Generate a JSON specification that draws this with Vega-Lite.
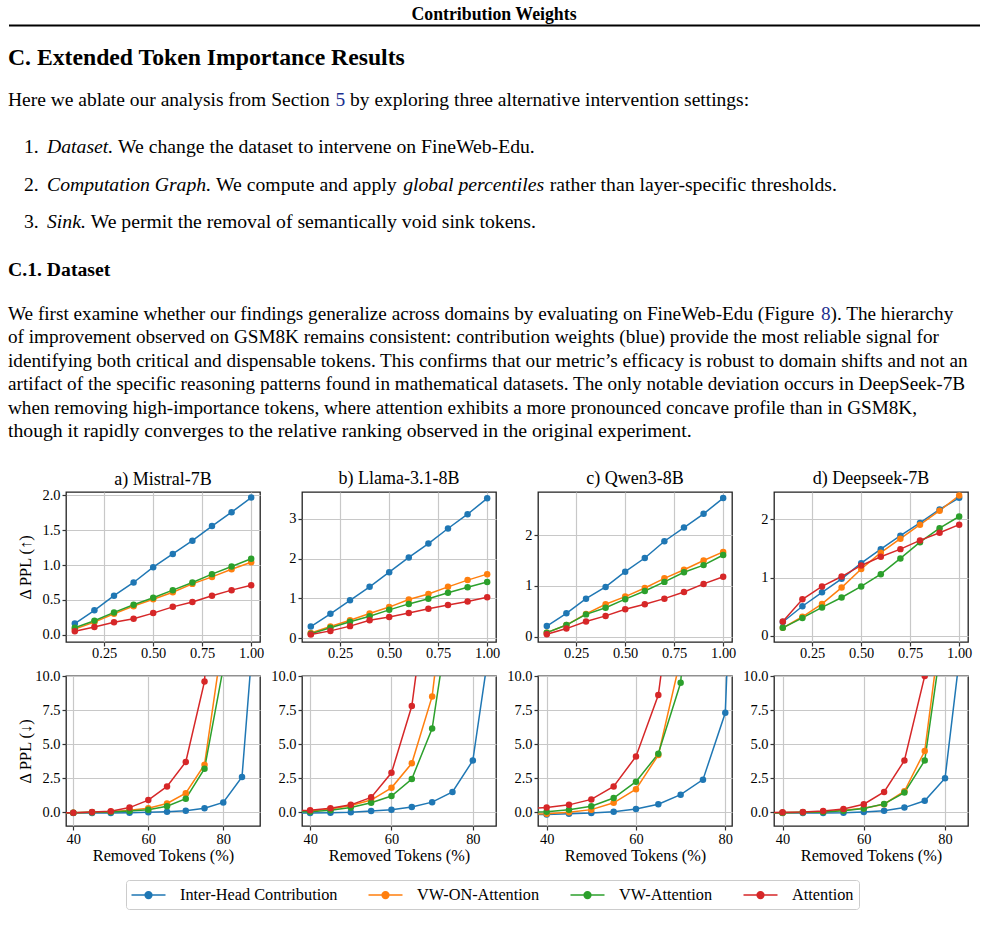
{
"$schema": "https://vega.github.io/schema/vega-lite/v6.json",
"padding": {"left": 8, "top": 0, "right": 0, "bottom": 0},
"background": "white",
"bounds": "flush",
"spacing": 184,
"config": {
  "font": "Liberation Serif",
  "view": {"stroke": "#222222", "strokeWidth": 1.3},
  "axis": {"labelFont": "Liberation Serif", "labelFontSize": 14.4, "labelColor": "black", "titleFont": "Liberation Serif", "titleFontSize": 16.3, "titleFontWeight": "normal", "titleColor": "black", "grid": true, "gridColor": "#c8c8c8", "gridWidth": 1.2, "domain": false, "ticks": true, "tickColor": "#333333", "tickSize": 4, "tickWidth": 1.2, "labelPadding": 2, "labelFlush": false, "labelOverlap": false, "titlePadding": 2},
  "title": {"font": "Liberation Serif", "fontSize": 18, "fontWeight": "normal", "color": "black", "offset": 4, "anchor": "middle", "frame": "group"},
  "legend": {"labelFont": "Liberation Serif", "labelFontSize": 16.3, "labelColor": "black", "symbolType": "M-2,0L2,0M0.4,0A0.4,0.4,0,1,1,-0.4,0A0.4,0.4,0,1,1,0.4,0Z", "symbolSize": 289, "symbolStrokeWidth": 1.5, "symbolOffset": 7.5, "labelOffset": 22, "columnPadding": 28, "padding": 5.5, "strokeColor": "#cccccc", "fillColor": "white", "cornerRadius": 3, "symbolOpacity": 1}
},
"datasets": {
  "page": [
    {"part": "header", "text": "Contribution Weights"},
    {"part": "h1", "text": "C. Extended Token Importance Results"},
    {"part": "introA", "text": "Here we ablate our analysis from Section"},
    {"part": "introLink", "text": "5"},
    {"part": "introB", "text": "by exploring three alternative intervention settings:"},
    {"part": "nums", "text": ["1.", "2.", "3."]},
    {"part": "li1i", "text": "Dataset."},
    {"part": "li1", "text": "We change the dataset to intervene on FineWeb-Edu."},
    {"part": "li2i", "text": "Computation Graph."},
    {"part": "li2a", "text": "We compute and apply"},
    {"part": "li2j", "text": "global percentiles"},
    {"part": "li2b", "text": "rather than layer-specific thresholds."},
    {"part": "li3i", "text": "Sink."},
    {"part": "li3", "text": "We permit the removal of semantically void sink tokens."},
    {"part": "h2", "text": "C.1. Dataset"},
    {"part": "p1a", "text": "We first examine whether our findings generalize across domains by evaluating on FineWeb-Edu (Figure"},
    {"part": "p1link", "text": "8"},
    {"part": "p1b", "text": "). The hierarchy"},
    {"part": "para", "text": ["of improvement observed on GSM8K remains consistent: contribution weights (blue) provide the most reliable signal for", "identifying both critical and dispensable tokens. This confirms that our metric’s efficacy is robust to domain shifts and not an", "artifact of the specific reasoning patterns found in mathematical datasets. The only notable deviation occurs in DeepSeek-7B", "when removing high-importance tokens, where attention exhibits a more pronounced concave profile than in GSM8K,"]},
    {"part": "last", "text": "though it rapidly converges to the relative ranking observed in the original experiment."}
  ],
  "top": [
    {"model": "Mistral-7B", "method": "Inter-Head Contribution", "x": 0.1, "y": 0.16},
    {"model": "Mistral-7B", "method": "Inter-Head Contribution", "x": 0.2, "y": 0.35},
    {"model": "Mistral-7B", "method": "Inter-Head Contribution", "x": 0.3, "y": 0.56},
    {"model": "Mistral-7B", "method": "Inter-Head Contribution", "x": 0.4, "y": 0.75},
    {"model": "Mistral-7B", "method": "Inter-Head Contribution", "x": 0.5, "y": 0.97},
    {"model": "Mistral-7B", "method": "Inter-Head Contribution", "x": 0.6, "y": 1.16},
    {"model": "Mistral-7B", "method": "Inter-Head Contribution", "x": 0.7, "y": 1.35},
    {"model": "Mistral-7B", "method": "Inter-Head Contribution", "x": 0.8, "y": 1.56},
    {"model": "Mistral-7B", "method": "Inter-Head Contribution", "x": 0.9, "y": 1.76},
    {"model": "Mistral-7B", "method": "Inter-Head Contribution", "x": 1.0, "y": 1.97},
    {"model": "Mistral-7B", "method": "VW-ON-Attention", "x": 0.1, "y": 0.08},
    {"model": "Mistral-7B", "method": "VW-ON-Attention", "x": 0.2, "y": 0.18},
    {"model": "Mistral-7B", "method": "VW-ON-Attention", "x": 0.3, "y": 0.30},
    {"model": "Mistral-7B", "method": "VW-ON-Attention", "x": 0.4, "y": 0.41},
    {"model": "Mistral-7B", "method": "VW-ON-Attention", "x": 0.5, "y": 0.51},
    {"model": "Mistral-7B", "method": "VW-ON-Attention", "x": 0.6, "y": 0.61},
    {"model": "Mistral-7B", "method": "VW-ON-Attention", "x": 0.7, "y": 0.73},
    {"model": "Mistral-7B", "method": "VW-ON-Attention", "x": 0.8, "y": 0.83},
    {"model": "Mistral-7B", "method": "VW-ON-Attention", "x": 0.9, "y": 0.94},
    {"model": "Mistral-7B", "method": "VW-ON-Attention", "x": 1.0, "y": 1.04},
    {"model": "Mistral-7B", "method": "VW-Attention", "x": 0.1, "y": 0.10},
    {"model": "Mistral-7B", "method": "VW-Attention", "x": 0.2, "y": 0.20},
    {"model": "Mistral-7B", "method": "VW-Attention", "x": 0.3, "y": 0.32},
    {"model": "Mistral-7B", "method": "VW-Attention", "x": 0.4, "y": 0.43},
    {"model": "Mistral-7B", "method": "VW-Attention", "x": 0.5, "y": 0.53},
    {"model": "Mistral-7B", "method": "VW-Attention", "x": 0.6, "y": 0.64},
    {"model": "Mistral-7B", "method": "VW-Attention", "x": 0.7, "y": 0.75},
    {"model": "Mistral-7B", "method": "VW-Attention", "x": 0.8, "y": 0.87},
    {"model": "Mistral-7B", "method": "VW-Attention", "x": 0.9, "y": 0.98},
    {"model": "Mistral-7B", "method": "VW-Attention", "x": 1.0, "y": 1.09},
    {"model": "Mistral-7B", "method": "Attention", "x": 0.1, "y": 0.05},
    {"model": "Mistral-7B", "method": "Attention", "x": 0.2, "y": 0.11},
    {"model": "Mistral-7B", "method": "Attention", "x": 0.3, "y": 0.18},
    {"model": "Mistral-7B", "method": "Attention", "x": 0.4, "y": 0.23},
    {"model": "Mistral-7B", "method": "Attention", "x": 0.5, "y": 0.31},
    {"model": "Mistral-7B", "method": "Attention", "x": 0.6, "y": 0.40},
    {"model": "Mistral-7B", "method": "Attention", "x": 0.7, "y": 0.47},
    {"model": "Mistral-7B", "method": "Attention", "x": 0.8, "y": 0.56},
    {"model": "Mistral-7B", "method": "Attention", "x": 0.9, "y": 0.64},
    {"model": "Mistral-7B", "method": "Attention", "x": 1.0, "y": 0.71},
    {"model": "Llama-3.1-8B", "method": "Inter-Head Contribution", "x": 0.1, "y": 0.29},
    {"model": "Llama-3.1-8B", "method": "Inter-Head Contribution", "x": 0.2, "y": 0.61},
    {"model": "Llama-3.1-8B", "method": "Inter-Head Contribution", "x": 0.3, "y": 0.95},
    {"model": "Llama-3.1-8B", "method": "Inter-Head Contribution", "x": 0.4, "y": 1.29},
    {"model": "Llama-3.1-8B", "method": "Inter-Head Contribution", "x": 0.5, "y": 1.66},
    {"model": "Llama-3.1-8B", "method": "Inter-Head Contribution", "x": 0.6, "y": 2.03},
    {"model": "Llama-3.1-8B", "method": "Inter-Head Contribution", "x": 0.7, "y": 2.38},
    {"model": "Llama-3.1-8B", "method": "Inter-Head Contribution", "x": 0.8, "y": 2.76},
    {"model": "Llama-3.1-8B", "method": "Inter-Head Contribution", "x": 0.9, "y": 3.12},
    {"model": "Llama-3.1-8B", "method": "Inter-Head Contribution", "x": 1.0, "y": 3.52},
    {"model": "Llama-3.1-8B", "method": "VW-ON-Attention", "x": 0.1, "y": 0.13},
    {"model": "Llama-3.1-8B", "method": "VW-ON-Attention", "x": 0.2, "y": 0.29},
    {"model": "Llama-3.1-8B", "method": "VW-ON-Attention", "x": 0.3, "y": 0.45},
    {"model": "Llama-3.1-8B", "method": "VW-ON-Attention", "x": 0.4, "y": 0.62},
    {"model": "Llama-3.1-8B", "method": "VW-ON-Attention", "x": 0.5, "y": 0.78},
    {"model": "Llama-3.1-8B", "method": "VW-ON-Attention", "x": 0.6, "y": 0.97},
    {"model": "Llama-3.1-8B", "method": "VW-ON-Attention", "x": 0.7, "y": 1.11},
    {"model": "Llama-3.1-8B", "method": "VW-ON-Attention", "x": 0.8, "y": 1.29},
    {"model": "Llama-3.1-8B", "method": "VW-ON-Attention", "x": 0.9, "y": 1.46},
    {"model": "Llama-3.1-8B", "method": "VW-ON-Attention", "x": 1.0, "y": 1.61},
    {"model": "Llama-3.1-8B", "method": "VW-Attention", "x": 0.1, "y": 0.11},
    {"model": "Llama-3.1-8B", "method": "VW-Attention", "x": 0.2, "y": 0.26},
    {"model": "Llama-3.1-8B", "method": "VW-Attention", "x": 0.3, "y": 0.41},
    {"model": "Llama-3.1-8B", "method": "VW-Attention", "x": 0.4, "y": 0.55},
    {"model": "Llama-3.1-8B", "method": "VW-Attention", "x": 0.5, "y": 0.71},
    {"model": "Llama-3.1-8B", "method": "VW-Attention", "x": 0.6, "y": 0.86},
    {"model": "Llama-3.1-8B", "method": "VW-Attention", "x": 0.7, "y": 0.99},
    {"model": "Llama-3.1-8B", "method": "VW-Attention", "x": 0.8, "y": 1.14},
    {"model": "Llama-3.1-8B", "method": "VW-Attention", "x": 0.9, "y": 1.28},
    {"model": "Llama-3.1-8B", "method": "VW-Attention", "x": 1.0, "y": 1.41},
    {"model": "Llama-3.1-8B", "method": "Attention", "x": 0.1, "y": 0.09},
    {"model": "Llama-3.1-8B", "method": "Attention", "x": 0.2, "y": 0.18},
    {"model": "Llama-3.1-8B", "method": "Attention", "x": 0.3, "y": 0.30},
    {"model": "Llama-3.1-8B", "method": "Attention", "x": 0.4, "y": 0.45},
    {"model": "Llama-3.1-8B", "method": "Attention", "x": 0.5, "y": 0.53},
    {"model": "Llama-3.1-8B", "method": "Attention", "x": 0.6, "y": 0.63},
    {"model": "Llama-3.1-8B", "method": "Attention", "x": 0.7, "y": 0.74},
    {"model": "Llama-3.1-8B", "method": "Attention", "x": 0.8, "y": 0.83},
    {"model": "Llama-3.1-8B", "method": "Attention", "x": 0.9, "y": 0.92},
    {"model": "Llama-3.1-8B", "method": "Attention", "x": 1.0, "y": 1.03},
    {"model": "Qwen3-8B", "method": "Inter-Head Contribution", "x": 0.1, "y": 0.21},
    {"model": "Qwen3-8B", "method": "Inter-Head Contribution", "x": 0.2, "y": 0.46},
    {"model": "Qwen3-8B", "method": "Inter-Head Contribution", "x": 0.3, "y": 0.75},
    {"model": "Qwen3-8B", "method": "Inter-Head Contribution", "x": 0.4, "y": 0.98},
    {"model": "Qwen3-8B", "method": "Inter-Head Contribution", "x": 0.5, "y": 1.28},
    {"model": "Qwen3-8B", "method": "Inter-Head Contribution", "x": 0.6, "y": 1.55},
    {"model": "Qwen3-8B", "method": "Inter-Head Contribution", "x": 0.7, "y": 1.88},
    {"model": "Qwen3-8B", "method": "Inter-Head Contribution", "x": 0.8, "y": 2.15},
    {"model": "Qwen3-8B", "method": "Inter-Head Contribution", "x": 0.9, "y": 2.42},
    {"model": "Qwen3-8B", "method": "Inter-Head Contribution", "x": 1.0, "y": 2.73},
    {"model": "Qwen3-8B", "method": "VW-ON-Attention", "x": 0.1, "y": 0.08},
    {"model": "Qwen3-8B", "method": "VW-ON-Attention", "x": 0.2, "y": 0.23},
    {"model": "Qwen3-8B", "method": "VW-ON-Attention", "x": 0.3, "y": 0.45},
    {"model": "Qwen3-8B", "method": "VW-ON-Attention", "x": 0.4, "y": 0.64},
    {"model": "Qwen3-8B", "method": "VW-ON-Attention", "x": 0.5, "y": 0.79},
    {"model": "Qwen3-8B", "method": "VW-ON-Attention", "x": 0.6, "y": 0.96},
    {"model": "Qwen3-8B", "method": "VW-ON-Attention", "x": 0.7, "y": 1.15},
    {"model": "Qwen3-8B", "method": "VW-ON-Attention", "x": 0.8, "y": 1.32},
    {"model": "Qwen3-8B", "method": "VW-ON-Attention", "x": 0.9, "y": 1.50},
    {"model": "Qwen3-8B", "method": "VW-ON-Attention", "x": 1.0, "y": 1.67},
    {"model": "Qwen3-8B", "method": "VW-Attention", "x": 0.1, "y": 0.08},
    {"model": "Qwen3-8B", "method": "VW-Attention", "x": 0.2, "y": 0.23},
    {"model": "Qwen3-8B", "method": "VW-Attention", "x": 0.3, "y": 0.44},
    {"model": "Qwen3-8B", "method": "VW-Attention", "x": 0.4, "y": 0.57},
    {"model": "Qwen3-8B", "method": "VW-Attention", "x": 0.5, "y": 0.74},
    {"model": "Qwen3-8B", "method": "VW-Attention", "x": 0.6, "y": 0.90},
    {"model": "Qwen3-8B", "method": "VW-Attention", "x": 0.7, "y": 1.08},
    {"model": "Qwen3-8B", "method": "VW-Attention", "x": 0.8, "y": 1.27},
    {"model": "Qwen3-8B", "method": "VW-Attention", "x": 0.9, "y": 1.41},
    {"model": "Qwen3-8B", "method": "VW-Attention", "x": 1.0, "y": 1.61},
    {"model": "Qwen3-8B", "method": "Attention", "x": 0.1, "y": 0.05},
    {"model": "Qwen3-8B", "method": "Attention", "x": 0.2, "y": 0.16},
    {"model": "Qwen3-8B", "method": "Attention", "x": 0.3, "y": 0.30},
    {"model": "Qwen3-8B", "method": "Attention", "x": 0.4, "y": 0.41},
    {"model": "Qwen3-8B", "method": "Attention", "x": 0.5, "y": 0.54},
    {"model": "Qwen3-8B", "method": "Attention", "x": 0.6, "y": 0.64},
    {"model": "Qwen3-8B", "method": "Attention", "x": 0.7, "y": 0.75},
    {"model": "Qwen3-8B", "method": "Attention", "x": 0.8, "y": 0.88},
    {"model": "Qwen3-8B", "method": "Attention", "x": 0.9, "y": 1.04},
    {"model": "Qwen3-8B", "method": "Attention", "x": 1.0, "y": 1.18},
    {"model": "Deepseek-7B", "method": "Inter-Head Contribution", "x": 0.1, "y": 0.24},
    {"model": "Deepseek-7B", "method": "Inter-Head Contribution", "x": 0.2, "y": 0.51},
    {"model": "Deepseek-7B", "method": "Inter-Head Contribution", "x": 0.3, "y": 0.75},
    {"model": "Deepseek-7B", "method": "Inter-Head Contribution", "x": 0.4, "y": 0.98},
    {"model": "Deepseek-7B", "method": "Inter-Head Contribution", "x": 0.5, "y": 1.25},
    {"model": "Deepseek-7B", "method": "Inter-Head Contribution", "x": 0.6, "y": 1.49},
    {"model": "Deepseek-7B", "method": "Inter-Head Contribution", "x": 0.7, "y": 1.72},
    {"model": "Deepseek-7B", "method": "Inter-Head Contribution", "x": 0.8, "y": 1.94},
    {"model": "Deepseek-7B", "method": "Inter-Head Contribution", "x": 0.9, "y": 2.17},
    {"model": "Deepseek-7B", "method": "Inter-Head Contribution", "x": 1.0, "y": 2.37},
    {"model": "Deepseek-7B", "method": "VW-ON-Attention", "x": 0.1, "y": 0.14},
    {"model": "Deepseek-7B", "method": "VW-ON-Attention", "x": 0.2, "y": 0.33},
    {"model": "Deepseek-7B", "method": "VW-ON-Attention", "x": 0.3, "y": 0.55},
    {"model": "Deepseek-7B", "method": "VW-ON-Attention", "x": 0.4, "y": 0.83},
    {"model": "Deepseek-7B", "method": "VW-ON-Attention", "x": 0.5, "y": 1.15},
    {"model": "Deepseek-7B", "method": "VW-ON-Attention", "x": 0.6, "y": 1.43},
    {"model": "Deepseek-7B", "method": "VW-ON-Attention", "x": 0.7, "y": 1.67},
    {"model": "Deepseek-7B", "method": "VW-ON-Attention", "x": 0.8, "y": 1.91},
    {"model": "Deepseek-7B", "method": "VW-ON-Attention", "x": 0.9, "y": 2.15},
    {"model": "Deepseek-7B", "method": "VW-ON-Attention", "x": 1.0, "y": 2.41},
    {"model": "Deepseek-7B", "method": "VW-Attention", "x": 0.1, "y": 0.14},
    {"model": "Deepseek-7B", "method": "VW-Attention", "x": 0.2, "y": 0.31},
    {"model": "Deepseek-7B", "method": "VW-Attention", "x": 0.3, "y": 0.49},
    {"model": "Deepseek-7B", "method": "VW-Attention", "x": 0.4, "y": 0.66},
    {"model": "Deepseek-7B", "method": "VW-Attention", "x": 0.5, "y": 0.85},
    {"model": "Deepseek-7B", "method": "VW-Attention", "x": 0.6, "y": 1.06},
    {"model": "Deepseek-7B", "method": "VW-Attention", "x": 0.7, "y": 1.33},
    {"model": "Deepseek-7B", "method": "VW-Attention", "x": 0.8, "y": 1.61},
    {"model": "Deepseek-7B", "method": "VW-Attention", "x": 0.9, "y": 1.85},
    {"model": "Deepseek-7B", "method": "VW-Attention", "x": 1.0, "y": 2.05},
    {"model": "Deepseek-7B", "method": "Attention", "x": 0.1, "y": 0.25},
    {"model": "Deepseek-7B", "method": "Attention", "x": 0.2, "y": 0.63},
    {"model": "Deepseek-7B", "method": "Attention", "x": 0.3, "y": 0.85},
    {"model": "Deepseek-7B", "method": "Attention", "x": 0.4, "y": 1.02},
    {"model": "Deepseek-7B", "method": "Attention", "x": 0.5, "y": 1.21},
    {"model": "Deepseek-7B", "method": "Attention", "x": 0.6, "y": 1.36},
    {"model": "Deepseek-7B", "method": "Attention", "x": 0.7, "y": 1.49},
    {"model": "Deepseek-7B", "method": "Attention", "x": 0.8, "y": 1.64},
    {"model": "Deepseek-7B", "method": "Attention", "x": 0.9, "y": 1.77},
    {"model": "Deepseek-7B", "method": "Attention", "x": 1.0, "y": 1.91}
  ],
  "bottom": [
    {"model": "Mistral-7B", "method": "Inter-Head Contribution", "x": 35, "y": -0.05},
    {"model": "Mistral-7B", "method": "Inter-Head Contribution", "x": 40, "y": -0.05},
    {"model": "Mistral-7B", "method": "Inter-Head Contribution", "x": 45, "y": -0.05},
    {"model": "Mistral-7B", "method": "Inter-Head Contribution", "x": 50, "y": -0.05},
    {"model": "Mistral-7B", "method": "Inter-Head Contribution", "x": 55, "y": -0.03},
    {"model": "Mistral-7B", "method": "Inter-Head Contribution", "x": 60, "y": 0.0},
    {"model": "Mistral-7B", "method": "Inter-Head Contribution", "x": 65, "y": 0.05},
    {"model": "Mistral-7B", "method": "Inter-Head Contribution", "x": 70, "y": 0.12},
    {"model": "Mistral-7B", "method": "Inter-Head Contribution", "x": 75, "y": 0.3},
    {"model": "Mistral-7B", "method": "Inter-Head Contribution", "x": 80, "y": 0.73},
    {"model": "Mistral-7B", "method": "Inter-Head Contribution", "x": 85, "y": 2.6},
    {"model": "Mistral-7B", "method": "Inter-Head Contribution", "x": 90, "y": 20},
    {"model": "Mistral-7B", "method": "VW-ON-Attention", "x": 35, "y": -0.04},
    {"model": "Mistral-7B", "method": "VW-ON-Attention", "x": 40, "y": -0.03},
    {"model": "Mistral-7B", "method": "VW-ON-Attention", "x": 45, "y": 0.0},
    {"model": "Mistral-7B", "method": "VW-ON-Attention", "x": 50, "y": 0.05},
    {"model": "Mistral-7B", "method": "VW-ON-Attention", "x": 55, "y": 0.15},
    {"model": "Mistral-7B", "method": "VW-ON-Attention", "x": 60, "y": 0.3},
    {"model": "Mistral-7B", "method": "VW-ON-Attention", "x": 65, "y": 0.65},
    {"model": "Mistral-7B", "method": "VW-ON-Attention", "x": 70, "y": 1.4},
    {"model": "Mistral-7B", "method": "VW-ON-Attention", "x": 75, "y": 3.5},
    {"model": "Mistral-7B", "method": "VW-ON-Attention", "x": 80, "y": 13},
    {"model": "Mistral-7B", "method": "VW-Attention", "x": 35, "y": -0.04},
    {"model": "Mistral-7B", "method": "VW-Attention", "x": 40, "y": -0.03},
    {"model": "Mistral-7B", "method": "VW-Attention", "x": 45, "y": 0.0},
    {"model": "Mistral-7B", "method": "VW-Attention", "x": 50, "y": 0.03},
    {"model": "Mistral-7B", "method": "VW-Attention", "x": 55, "y": 0.1},
    {"model": "Mistral-7B", "method": "VW-Attention", "x": 60, "y": 0.2},
    {"model": "Mistral-7B", "method": "VW-Attention", "x": 65, "y": 0.45},
    {"model": "Mistral-7B", "method": "VW-Attention", "x": 70, "y": 1.0},
    {"model": "Mistral-7B", "method": "VW-Attention", "x": 75, "y": 3.2},
    {"model": "Mistral-7B", "method": "VW-Attention", "x": 80, "y": 10.6},
    {"model": "Mistral-7B", "method": "Attention", "x": 35, "y": -0.04},
    {"model": "Mistral-7B", "method": "Attention", "x": 40, "y": -0.03},
    {"model": "Mistral-7B", "method": "Attention", "x": 45, "y": 0.02},
    {"model": "Mistral-7B", "method": "Attention", "x": 50, "y": 0.08},
    {"model": "Mistral-7B", "method": "Attention", "x": 55, "y": 0.35},
    {"model": "Mistral-7B", "method": "Attention", "x": 60, "y": 0.9},
    {"model": "Mistral-7B", "method": "Attention", "x": 65, "y": 1.9},
    {"model": "Mistral-7B", "method": "Attention", "x": 70, "y": 3.7},
    {"model": "Mistral-7B", "method": "Attention", "x": 75, "y": 9.6},
    {"model": "Mistral-7B", "method": "Attention", "x": 80, "y": 35},
    {"model": "Llama-3.1-8B", "method": "Inter-Head Contribution", "x": 35, "y": -0.06},
    {"model": "Llama-3.1-8B", "method": "Inter-Head Contribution", "x": 40, "y": -0.05},
    {"model": "Llama-3.1-8B", "method": "Inter-Head Contribution", "x": 45, "y": -0.03},
    {"model": "Llama-3.1-8B", "method": "Inter-Head Contribution", "x": 50, "y": 0.0},
    {"model": "Llama-3.1-8B", "method": "Inter-Head Contribution", "x": 55, "y": 0.1},
    {"model": "Llama-3.1-8B", "method": "Inter-Head Contribution", "x": 60, "y": 0.2},
    {"model": "Llama-3.1-8B", "method": "Inter-Head Contribution", "x": 65, "y": 0.4},
    {"model": "Llama-3.1-8B", "method": "Inter-Head Contribution", "x": 70, "y": 0.75},
    {"model": "Llama-3.1-8B", "method": "Inter-Head Contribution", "x": 75, "y": 1.5},
    {"model": "Llama-3.1-8B", "method": "Inter-Head Contribution", "x": 80, "y": 3.8},
    {"model": "Llama-3.1-8B", "method": "Inter-Head Contribution", "x": 85, "y": 14},
    {"model": "Llama-3.1-8B", "method": "VW-ON-Attention", "x": 35, "y": 0.06},
    {"model": "Llama-3.1-8B", "method": "VW-ON-Attention", "x": 40, "y": 0.1},
    {"model": "Llama-3.1-8B", "method": "VW-ON-Attention", "x": 45, "y": 0.25},
    {"model": "Llama-3.1-8B", "method": "VW-ON-Attention", "x": 50, "y": 0.5},
    {"model": "Llama-3.1-8B", "method": "VW-ON-Attention", "x": 55, "y": 0.9},
    {"model": "Llama-3.1-8B", "method": "VW-ON-Attention", "x": 60, "y": 1.8},
    {"model": "Llama-3.1-8B", "method": "VW-ON-Attention", "x": 65, "y": 3.6},
    {"model": "Llama-3.1-8B", "method": "VW-ON-Attention", "x": 70, "y": 8.5},
    {"model": "Llama-3.1-8B", "method": "VW-ON-Attention", "x": 75, "y": 21},
    {"model": "Llama-3.1-8B", "method": "VW-Attention", "x": 35, "y": 0.02},
    {"model": "Llama-3.1-8B", "method": "VW-Attention", "x": 40, "y": 0.05},
    {"model": "Llama-3.1-8B", "method": "VW-Attention", "x": 45, "y": 0.15},
    {"model": "Llama-3.1-8B", "method": "VW-Attention", "x": 50, "y": 0.35},
    {"model": "Llama-3.1-8B", "method": "VW-Attention", "x": 55, "y": 0.7},
    {"model": "Llama-3.1-8B", "method": "VW-Attention", "x": 60, "y": 1.2},
    {"model": "Llama-3.1-8B", "method": "VW-Attention", "x": 65, "y": 2.45},
    {"model": "Llama-3.1-8B", "method": "VW-Attention", "x": 70, "y": 6.15},
    {"model": "Llama-3.1-8B", "method": "VW-Attention", "x": 75, "y": 16},
    {"model": "Llama-3.1-8B", "method": "Attention", "x": 35, "y": 0.1},
    {"model": "Llama-3.1-8B", "method": "Attention", "x": 40, "y": 0.15},
    {"model": "Llama-3.1-8B", "method": "Attention", "x": 45, "y": 0.3},
    {"model": "Llama-3.1-8B", "method": "Attention", "x": 50, "y": 0.55},
    {"model": "Llama-3.1-8B", "method": "Attention", "x": 55, "y": 1.1},
    {"model": "Llama-3.1-8B", "method": "Attention", "x": 60, "y": 2.9},
    {"model": "Llama-3.1-8B", "method": "Attention", "x": 65, "y": 7.8},
    {"model": "Llama-3.1-8B", "method": "Attention", "x": 70, "y": 19},
    {"model": "Qwen3-8B", "method": "Inter-Head Contribution", "x": 35, "y": -0.18},
    {"model": "Qwen3-8B", "method": "Inter-Head Contribution", "x": 40, "y": -0.15},
    {"model": "Qwen3-8B", "method": "Inter-Head Contribution", "x": 45, "y": -0.1},
    {"model": "Qwen3-8B", "method": "Inter-Head Contribution", "x": 50, "y": -0.05},
    {"model": "Qwen3-8B", "method": "Inter-Head Contribution", "x": 55, "y": 0.05},
    {"model": "Qwen3-8B", "method": "Inter-Head Contribution", "x": 60, "y": 0.25},
    {"model": "Qwen3-8B", "method": "Inter-Head Contribution", "x": 65, "y": 0.6},
    {"model": "Qwen3-8B", "method": "Inter-Head Contribution", "x": 70, "y": 1.3},
    {"model": "Qwen3-8B", "method": "Inter-Head Contribution", "x": 75, "y": 2.4},
    {"model": "Qwen3-8B", "method": "Inter-Head Contribution", "x": 80, "y": 7.3},
    {"model": "Qwen3-8B", "method": "Inter-Head Contribution", "x": 85, "y": 50},
    {"model": "Qwen3-8B", "method": "VW-ON-Attention", "x": 35, "y": -0.15},
    {"model": "Qwen3-8B", "method": "VW-ON-Attention", "x": 40, "y": -0.1},
    {"model": "Qwen3-8B", "method": "VW-ON-Attention", "x": 45, "y": 0.0},
    {"model": "Qwen3-8B", "method": "VW-ON-Attention", "x": 50, "y": 0.2},
    {"model": "Qwen3-8B", "method": "VW-ON-Attention", "x": 55, "y": 0.7},
    {"model": "Qwen3-8B", "method": "VW-ON-Attention", "x": 60, "y": 1.7},
    {"model": "Qwen3-8B", "method": "VW-ON-Attention", "x": 65, "y": 4.2},
    {"model": "Qwen3-8B", "method": "VW-ON-Attention", "x": 70, "y": 11.3},
    {"model": "Qwen3-8B", "method": "VW-Attention", "x": 35, "y": 0.0},
    {"model": "Qwen3-8B", "method": "VW-Attention", "x": 40, "y": 0.05},
    {"model": "Qwen3-8B", "method": "VW-Attention", "x": 45, "y": 0.2},
    {"model": "Qwen3-8B", "method": "VW-Attention", "x": 50, "y": 0.45},
    {"model": "Qwen3-8B", "method": "VW-Attention", "x": 55, "y": 1.05},
    {"model": "Qwen3-8B", "method": "VW-Attention", "x": 60, "y": 2.25},
    {"model": "Qwen3-8B", "method": "VW-Attention", "x": 65, "y": 4.3},
    {"model": "Qwen3-8B", "method": "VW-Attention", "x": 70, "y": 9.5},
    {"model": "Qwen3-8B", "method": "VW-Attention", "x": 75, "y": 30},
    {"model": "Qwen3-8B", "method": "Attention", "x": 35, "y": 0.25},
    {"model": "Qwen3-8B", "method": "Attention", "x": 40, "y": 0.35},
    {"model": "Qwen3-8B", "method": "Attention", "x": 45, "y": 0.55},
    {"model": "Qwen3-8B", "method": "Attention", "x": 50, "y": 0.95},
    {"model": "Qwen3-8B", "method": "Attention", "x": 55, "y": 1.9},
    {"model": "Qwen3-8B", "method": "Attention", "x": 60, "y": 4.1},
    {"model": "Qwen3-8B", "method": "Attention", "x": 65, "y": 8.6},
    {"model": "Qwen3-8B", "method": "Attention", "x": 70, "y": 21},
    {"model": "Deepseek-7B", "method": "Inter-Head Contribution", "x": 35, "y": -0.06},
    {"model": "Deepseek-7B", "method": "Inter-Head Contribution", "x": 40, "y": -0.05},
    {"model": "Deepseek-7B", "method": "Inter-Head Contribution", "x": 45, "y": -0.05},
    {"model": "Deepseek-7B", "method": "Inter-Head Contribution", "x": 50, "y": -0.05},
    {"model": "Deepseek-7B", "method": "Inter-Head Contribution", "x": 55, "y": -0.03},
    {"model": "Deepseek-7B", "method": "Inter-Head Contribution", "x": 60, "y": 0.03},
    {"model": "Deepseek-7B", "method": "Inter-Head Contribution", "x": 65, "y": 0.12},
    {"model": "Deepseek-7B", "method": "Inter-Head Contribution", "x": 70, "y": 0.35},
    {"model": "Deepseek-7B", "method": "Inter-Head Contribution", "x": 75, "y": 0.85},
    {"model": "Deepseek-7B", "method": "Inter-Head Contribution", "x": 80, "y": 2.5},
    {"model": "Deepseek-7B", "method": "Inter-Head Contribution", "x": 85, "y": 15},
    {"model": "Deepseek-7B", "method": "VW-ON-Attention", "x": 35, "y": -0.04},
    {"model": "Deepseek-7B", "method": "VW-ON-Attention", "x": 40, "y": -0.03},
    {"model": "Deepseek-7B", "method": "VW-ON-Attention", "x": 45, "y": 0.0},
    {"model": "Deepseek-7B", "method": "VW-ON-Attention", "x": 50, "y": 0.05},
    {"model": "Deepseek-7B", "method": "VW-ON-Attention", "x": 55, "y": 0.15},
    {"model": "Deepseek-7B", "method": "VW-ON-Attention", "x": 60, "y": 0.3},
    {"model": "Deepseek-7B", "method": "VW-ON-Attention", "x": 65, "y": 0.6},
    {"model": "Deepseek-7B", "method": "VW-ON-Attention", "x": 70, "y": 1.55},
    {"model": "Deepseek-7B", "method": "VW-ON-Attention", "x": 75, "y": 4.5},
    {"model": "Deepseek-7B", "method": "VW-ON-Attention", "x": 80, "y": 16},
    {"model": "Deepseek-7B", "method": "VW-Attention", "x": 35, "y": -0.04},
    {"model": "Deepseek-7B", "method": "VW-Attention", "x": 40, "y": -0.03},
    {"model": "Deepseek-7B", "method": "VW-Attention", "x": 45, "y": 0.0},
    {"model": "Deepseek-7B", "method": "VW-Attention", "x": 50, "y": 0.03},
    {"model": "Deepseek-7B", "method": "VW-Attention", "x": 55, "y": 0.12},
    {"model": "Deepseek-7B", "method": "VW-Attention", "x": 60, "y": 0.28},
    {"model": "Deepseek-7B", "method": "VW-Attention", "x": 65, "y": 0.62},
    {"model": "Deepseek-7B", "method": "VW-Attention", "x": 70, "y": 1.45},
    {"model": "Deepseek-7B", "method": "VW-Attention", "x": 75, "y": 3.8},
    {"model": "Deepseek-7B", "method": "VW-Attention", "x": 80, "y": 14.3},
    {"model": "Deepseek-7B", "method": "Attention", "x": 35, "y": -0.01},
    {"model": "Deepseek-7B", "method": "Attention", "x": 40, "y": 0.0},
    {"model": "Deepseek-7B", "method": "Attention", "x": 45, "y": 0.03},
    {"model": "Deepseek-7B", "method": "Attention", "x": 50, "y": 0.1},
    {"model": "Deepseek-7B", "method": "Attention", "x": 55, "y": 0.25},
    {"model": "Deepseek-7B", "method": "Attention", "x": 60, "y": 0.6},
    {"model": "Deepseek-7B", "method": "Attention", "x": 65, "y": 1.5},
    {"model": "Deepseek-7B", "method": "Attention", "x": 70, "y": 3.8},
    {"model": "Deepseek-7B", "method": "Attention", "x": 75, "y": 10.0},
    {"model": "Deepseek-7B", "method": "Attention", "x": 80, "y": 40}
  ]
},
"vconcat": [
  {
    "width": 914, "height": 308,
    "view": {"stroke": null},
    "data": {"name": "page"},
    "layer": [
      {"transform": [{"filter": "datum.part == 'header'"}], "mark": {"type": "text", "font": "Liberation Serif", "fontSize": 17.8, "fontWeight": "bold", "align": "center", "baseline": "alphabetic", "color": "black"}, "encoding": {"text": {"field": "text"}, "x": {"value": 428}, "y": {"value": 20}}},
      {"transform": [{"filter": "datum.part == 'header'"}], "mark": {"type": "rule", "color": "black", "strokeWidth": 2}, "encoding": {"x": {"value": -57}, "x2": {"value": 914}, "y": {"value": 25.5}}},
      {"transform": [{"filter": "datum.part == 'h1'"}], "mark": {"type": "text", "font": "Liberation Serif", "fontSize": 23.7, "fontWeight": "bold", "align": "left", "baseline": "alphabetic", "color": "black"}, "encoding": {"text": {"field": "text"}, "x": {"value": -58}, "y": {"value": 65}}},
      {"transform": [{"filter": "datum.part == 'introA'"}], "mark": {"type": "text", "font": "Liberation Serif", "fontSize": 19.5, "align": "left", "baseline": "alphabetic", "color": "black"}, "encoding": {"text": {"field": "text"}, "x": {"value": -58}, "y": {"value": 106}}},
      {"transform": [{"filter": "datum.part == 'introLink'"}], "mark": {"type": "text", "font": "Liberation Serif", "fontSize": 19.5, "align": "left", "baseline": "alphabetic", "color": "#1c2f8f"}, "encoding": {"text": {"field": "text"}, "x": {"value": 269.5}, "y": {"value": 106}}},
      {"transform": [{"filter": "datum.part == 'introB'"}], "mark": {"type": "text", "font": "Liberation Serif", "fontSize": 19.5, "align": "left", "baseline": "alphabetic", "color": "black"}, "encoding": {"text": {"field": "text"}, "x": {"value": 284}, "y": {"value": 106}}},
      {"transform": [{"filter": "datum.part == 'nums'"}], "mark": {"type": "text", "font": "Liberation Serif", "fontSize": 19.7, "align": "left", "baseline": "alphabetic", "color": "black", "lineHeight": 37.5}, "encoding": {"text": {"field": "text"}, "x": {"value": -42}, "y": {"value": 153}}},
      {"transform": [{"filter": "datum.part == 'li1i'"}], "mark": {"type": "text", "font": "Liberation Serif", "fontSize": 19.7, "fontStyle": "italic", "align": "left", "baseline": "alphabetic", "color": "black"}, "encoding": {"text": {"field": "text"}, "x": {"value": -19}, "y": {"value": 153}}},
      {"transform": [{"filter": "datum.part == 'li1'"}], "mark": {"type": "text", "font": "Liberation Serif", "fontSize": 19.7, "align": "left", "baseline": "alphabetic", "color": "black"}, "encoding": {"text": {"field": "text"}, "x": {"value": 52.1}, "y": {"value": 153}}},
      {"transform": [{"filter": "datum.part == 'li2i'"}], "mark": {"type": "text", "font": "Liberation Serif", "fontSize": 19.7, "fontStyle": "italic", "align": "left", "baseline": "alphabetic", "color": "black"}, "encoding": {"text": {"field": "text"}, "x": {"value": -19}, "y": {"value": 190.5}}},
      {"transform": [{"filter": "datum.part == 'li2a'"}], "mark": {"type": "text", "font": "Liberation Serif", "fontSize": 19.7, "align": "left", "baseline": "alphabetic", "color": "black"}, "encoding": {"text": {"field": "text"}, "x": {"value": 150.1}, "y": {"value": 190.5}}},
      {"transform": [{"filter": "datum.part == 'li2j'"}], "mark": {"type": "text", "font": "Liberation Serif", "fontSize": 19.7, "fontStyle": "italic", "align": "left", "baseline": "alphabetic", "color": "black"}, "encoding": {"text": {"field": "text"}, "x": {"value": 337.2}, "y": {"value": 190.5}}},
      {"transform": [{"filter": "datum.part == 'li2b'"}], "mark": {"type": "text", "font": "Liberation Serif", "fontSize": 19.7, "align": "left", "baseline": "alphabetic", "color": "black"}, "encoding": {"text": {"field": "text"}, "x": {"value": 483.8}, "y": {"value": 190.5}}},
      {"transform": [{"filter": "datum.part == 'li3i'"}], "mark": {"type": "text", "font": "Liberation Serif", "fontSize": 19.7, "fontStyle": "italic", "align": "left", "baseline": "alphabetic", "color": "black"}, "encoding": {"text": {"field": "text"}, "x": {"value": -19}, "y": {"value": 228}}},
      {"transform": [{"filter": "datum.part == 'li3'"}], "mark": {"type": "text", "font": "Liberation Serif", "fontSize": 19.7, "align": "left", "baseline": "alphabetic", "color": "black"}, "encoding": {"text": {"field": "text"}, "x": {"value": 24.7}, "y": {"value": 228}}},
      {"transform": [{"filter": "datum.part == 'h2'"}], "mark": {"type": "text", "font": "Liberation Serif", "fontSize": 19.7, "fontWeight": "bold", "align": "left", "baseline": "alphabetic", "color": "black"}, "encoding": {"text": {"field": "text"}, "x": {"value": -58}, "y": {"value": 276}}},
      {"transform": [{"filter": "datum.part == 'p1a'"}], "mark": {"type": "text", "font": "Liberation Serif", "fontSize": 19.2, "align": "left", "baseline": "alphabetic", "color": "black"}, "encoding": {"text": {"field": "text"}, "x": {"value": -58}, "y": {"value": 320}}},
      {"transform": [{"filter": "datum.part == 'p1link'"}], "mark": {"type": "text", "font": "Liberation Serif", "fontSize": 19.2, "align": "left", "baseline": "alphabetic", "color": "#1c2f8f"}, "encoding": {"text": {"field": "text"}, "x": {"value": 755}, "y": {"value": 320}}},
      {"transform": [{"filter": "datum.part == 'p1b'"}], "mark": {"type": "text", "font": "Liberation Serif", "fontSize": 19.2, "align": "left", "baseline": "alphabetic", "color": "black"}, "encoding": {"text": {"field": "text"}, "x": {"value": 764.6}, "y": {"value": 320}}},
      {"transform": [{"filter": "datum.part == 'para'"}], "mark": {"type": "text", "font": "Liberation Serif", "fontSize": 19.2, "align": "left", "baseline": "alphabetic", "color": "black", "lineHeight": 23.4}, "encoding": {"text": {"field": "text"}, "x": {"value": -58}, "y": {"value": 343.4}}},
      {"transform": [{"filter": "datum.part == 'last'"}], "mark": {"type": "text", "font": "Liberation Serif", "fontSize": 19.7, "align": "left", "baseline": "alphabetic", "color": "black"}, "encoding": {"text": {"field": "text"}, "x": {"value": -58}, "y": {"value": 437}}}
    ]
  },
  {
    "bounds": "flush",
    "spacing": 42,
    "hconcat": [
      {
        "title": {"text": "a) Mistral-7B", "offset": -2}, "width": 194, "height": 150,
        "data": {"name": "top"},
        "transform": [{"filter": "datum.model == 'Mistral-7B'"}],
        "encoding": {
          "x": {"field": "x", "type": "quantitative", "scale": {"domain": [0.055, 1.045], "nice": false, "zero": false}, "axis": {"values": [0.25, 0.5, 0.75, 1], "format": ".2f", "title": null, "labelPadding": 0}},
          "y": {"field": "y", "type": "quantitative", "scale": {"domain": [-0.105, 2.05], "nice": false, "zero": false}, "axis": {"values": [0, 0.5, 1, 1.5, 2], "format": ".1f", "title": "Δ PPL (↑)", "titleX": -33}},
          "color": {"field": "method", "type": "nominal", "scale": {"domain": ["Inter-Head Contribution", "VW-ON-Attention", "VW-Attention", "Attention"], "range": ["#1f77b4", "#ff7f0e", "#2ca02c", "#d62728"]}, "legend": {"orient": "none", "legendX": 60, "legendY": 880, "direction": "horizontal", "title": null}}
        },
        "layer": [
          {"mark": {"type": "line", "strokeWidth": 1.5, "clip": true}},
          {"mark": {"type": "point", "filled": true, "size": 42, "opacity": 1, "clip": true}}
        ]
      },
      {
        "title": "b) Llama-3.1-8B", "width": 194, "height": 150,
        "data": {"name": "top"},
        "transform": [{"filter": "datum.model == 'Llama-3.1-8B'"}],
        "encoding": {
          "x": {"field": "x", "type": "quantitative", "scale": {"domain": [0.055, 1.045], "nice": false, "zero": false}, "axis": {"values": [0.25, 0.5, 0.75, 1], "format": ".2f", "title": null, "labelPadding": 0}},
          "y": {"field": "y", "type": "quantitative", "scale": {"domain": [-0.1, 3.68], "nice": false, "zero": false}, "axis": {"values": [0, 1, 2, 3], "format": "d", "title": null}},
          "color": {"field": "method", "type": "nominal", "scale": {"domain": ["Inter-Head Contribution", "VW-ON-Attention", "VW-Attention", "Attention"], "range": ["#1f77b4", "#ff7f0e", "#2ca02c", "#d62728"]}, "legend": {"orient": "none", "legendX": 60, "legendY": 880, "direction": "horizontal", "title": null}}
        },
        "layer": [
          {"mark": {"type": "line", "strokeWidth": 1.5, "clip": true}},
          {"mark": {"type": "point", "filled": true, "size": 42, "opacity": 1, "clip": true}}
        ]
      },
      {
        "title": "c) Qwen3-8B", "width": 194, "height": 150,
        "data": {"name": "top"},
        "transform": [{"filter": "datum.model == 'Qwen3-8B'"}],
        "encoding": {
          "x": {"field": "x", "type": "quantitative", "scale": {"domain": [0.055, 1.045], "nice": false, "zero": false}, "axis": {"values": [0.25, 0.5, 0.75, 1], "format": ".2f", "title": null, "labelPadding": 0}},
          "y": {"field": "y", "type": "quantitative", "scale": {"domain": [-0.104, 2.85], "nice": false, "zero": false}, "axis": {"values": [0, 1, 2], "format": "d", "title": null}},
          "color": {"field": "method", "type": "nominal", "scale": {"domain": ["Inter-Head Contribution", "VW-ON-Attention", "VW-Attention", "Attention"], "range": ["#1f77b4", "#ff7f0e", "#2ca02c", "#d62728"]}, "legend": {"orient": "none", "legendX": 60, "legendY": 880, "direction": "horizontal", "title": null}}
        },
        "layer": [
          {"mark": {"type": "line", "strokeWidth": 1.5, "clip": true}},
          {"mark": {"type": "point", "filled": true, "size": 42, "opacity": 1, "clip": true}}
        ]
      },
      {
        "title": "d) Deepseek-7B", "width": 194, "height": 150,
        "data": {"name": "top"},
        "transform": [{"filter": "datum.model == 'Deepseek-7B'"}],
        "encoding": {
          "x": {"field": "x", "type": "quantitative", "scale": {"domain": [0.055, 1.045], "nice": false, "zero": false}, "axis": {"values": [0.25, 0.5, 0.75, 1], "format": ".2f", "title": null, "labelPadding": 0}},
          "y": {"field": "y", "type": "quantitative", "scale": {"domain": [-0.103, 2.47], "nice": false, "zero": false}, "axis": {"values": [0, 1, 2], "format": "d", "title": null}},
          "color": {"field": "method", "type": "nominal", "scale": {"domain": ["Inter-Head Contribution", "VW-ON-Attention", "VW-Attention", "Attention"], "range": ["#1f77b4", "#ff7f0e", "#2ca02c", "#d62728"]}, "legend": {"orient": "none", "legendX": 60, "legendY": 880, "direction": "horizontal", "title": null}}
        },
        "layer": [
          {"mark": {"type": "line", "strokeWidth": 1.5, "clip": true}},
          {"mark": {"type": "point", "filled": true, "size": 42, "opacity": 1, "clip": true}}
        ]
      }
    ]
  },
  {
    "bounds": "flush",
    "spacing": 42,
    "hconcat": [
      {
        "width": 194, "height": 150,
        "data": {"name": "bottom"},
        "transform": [{"filter": "datum.model == 'Mistral-7B'"}],
        "encoding": {
          "x": {"field": "x", "type": "quantitative", "scale": {"domain": [38.05, 89.8], "nice": false, "zero": false}, "axis": {"values": [40, 60, 80], "format": "d", "title": "Removed Tokens (%)"}},
          "y": {"field": "y", "type": "quantitative", "scale": {"domain": [-1, 10], "nice": false, "zero": false}, "axis": {"values": [0, 2.5, 5, 7.5, 10], "format": ".1f", "title": "Δ PPL (↓)", "titleX": -33}},
          "color": {"field": "method", "type": "nominal", "scale": {"domain": ["Inter-Head Contribution", "VW-ON-Attention", "VW-Attention", "Attention"], "range": ["#1f77b4", "#ff7f0e", "#2ca02c", "#d62728"]}, "legend": {"orient": "none", "legendX": 60, "legendY": 880, "direction": "horizontal", "title": null}}
        },
        "layer": [
          {"mark": {"type": "line", "strokeWidth": 1.5, "clip": true}},
          {"mark": {"type": "point", "filled": true, "size": 42, "opacity": 1, "clip": true}}
        ]
      },
      {
        "width": 194, "height": 150,
        "data": {"name": "bottom"},
        "transform": [{"filter": "datum.model == 'Llama-3.1-8B'"}],
        "encoding": {
          "x": {"field": "x", "type": "quantitative", "scale": {"domain": [38, 85.7], "nice": false, "zero": false}, "axis": {"values": [40, 60, 80], "format": "d", "title": "Removed Tokens (%)"}},
          "y": {"field": "y", "type": "quantitative", "scale": {"domain": [-1, 10], "nice": false, "zero": false}, "axis": {"values": [0, 2.5, 5, 7.5, 10], "format": ".1f", "title": null}},
          "color": {"field": "method", "type": "nominal", "scale": {"domain": ["Inter-Head Contribution", "VW-ON-Attention", "VW-Attention", "Attention"], "range": ["#1f77b4", "#ff7f0e", "#2ca02c", "#d62728"]}, "legend": {"orient": "none", "legendX": 60, "legendY": 880, "direction": "horizontal", "title": null}}
        },
        "layer": [
          {"mark": {"type": "line", "strokeWidth": 1.5, "clip": true}},
          {"mark": {"type": "point", "filled": true, "size": 42, "opacity": 1, "clip": true}}
        ]
      },
      {
        "width": 194, "height": 150,
        "data": {"name": "bottom"},
        "transform": [{"filter": "datum.model == 'Qwen3-8B'"}],
        "encoding": {
          "x": {"field": "x", "type": "quantitative", "scale": {"domain": [38.06, 81.5], "nice": false, "zero": false}, "axis": {"values": [40, 60, 80], "format": "d", "title": "Removed Tokens (%)"}},
          "y": {"field": "y", "type": "quantitative", "scale": {"domain": [-1, 10], "nice": false, "zero": false}, "axis": {"values": [0, 2.5, 5, 7.5, 10], "format": ".1f", "title": null}},
          "color": {"field": "method", "type": "nominal", "scale": {"domain": ["Inter-Head Contribution", "VW-ON-Attention", "VW-Attention", "Attention"], "range": ["#1f77b4", "#ff7f0e", "#2ca02c", "#d62728"]}, "legend": {"orient": "none", "legendX": 60, "legendY": 880, "direction": "horizontal", "title": null}}
        },
        "layer": [
          {"mark": {"type": "line", "strokeWidth": 1.5, "clip": true}},
          {"mark": {"type": "point", "filled": true, "size": 42, "opacity": 1, "clip": true}}
        ]
      },
      {
        "width": 194, "height": 150,
        "data": {"name": "bottom"},
        "transform": [{"filter": "datum.model == 'Deepseek-7B'"}],
        "encoding": {
          "x": {"field": "x", "type": "quantitative", "scale": {"domain": [37.9, 85.65], "nice": false, "zero": false}, "axis": {"values": [40, 60, 80], "format": "d", "title": "Removed Tokens (%)"}},
          "y": {"field": "y", "type": "quantitative", "scale": {"domain": [-1, 10], "nice": false, "zero": false}, "axis": {"values": [0, 2.5, 5, 7.5, 10], "format": ".1f", "title": null}},
          "color": {"field": "method", "type": "nominal", "scale": {"domain": ["Inter-Head Contribution", "VW-ON-Attention", "VW-Attention", "Attention"], "range": ["#1f77b4", "#ff7f0e", "#2ca02c", "#d62728"]}, "legend": {"orient": "none", "legendX": 60, "legendY": 880, "direction": "horizontal", "title": null}}
        },
        "layer": [
          {"mark": {"type": "line", "strokeWidth": 1.5, "clip": true}},
          {"mark": {"type": "point", "filled": true, "size": 42, "opacity": 1, "clip": true}}
        ]
      }
    ]
  }
]
}
